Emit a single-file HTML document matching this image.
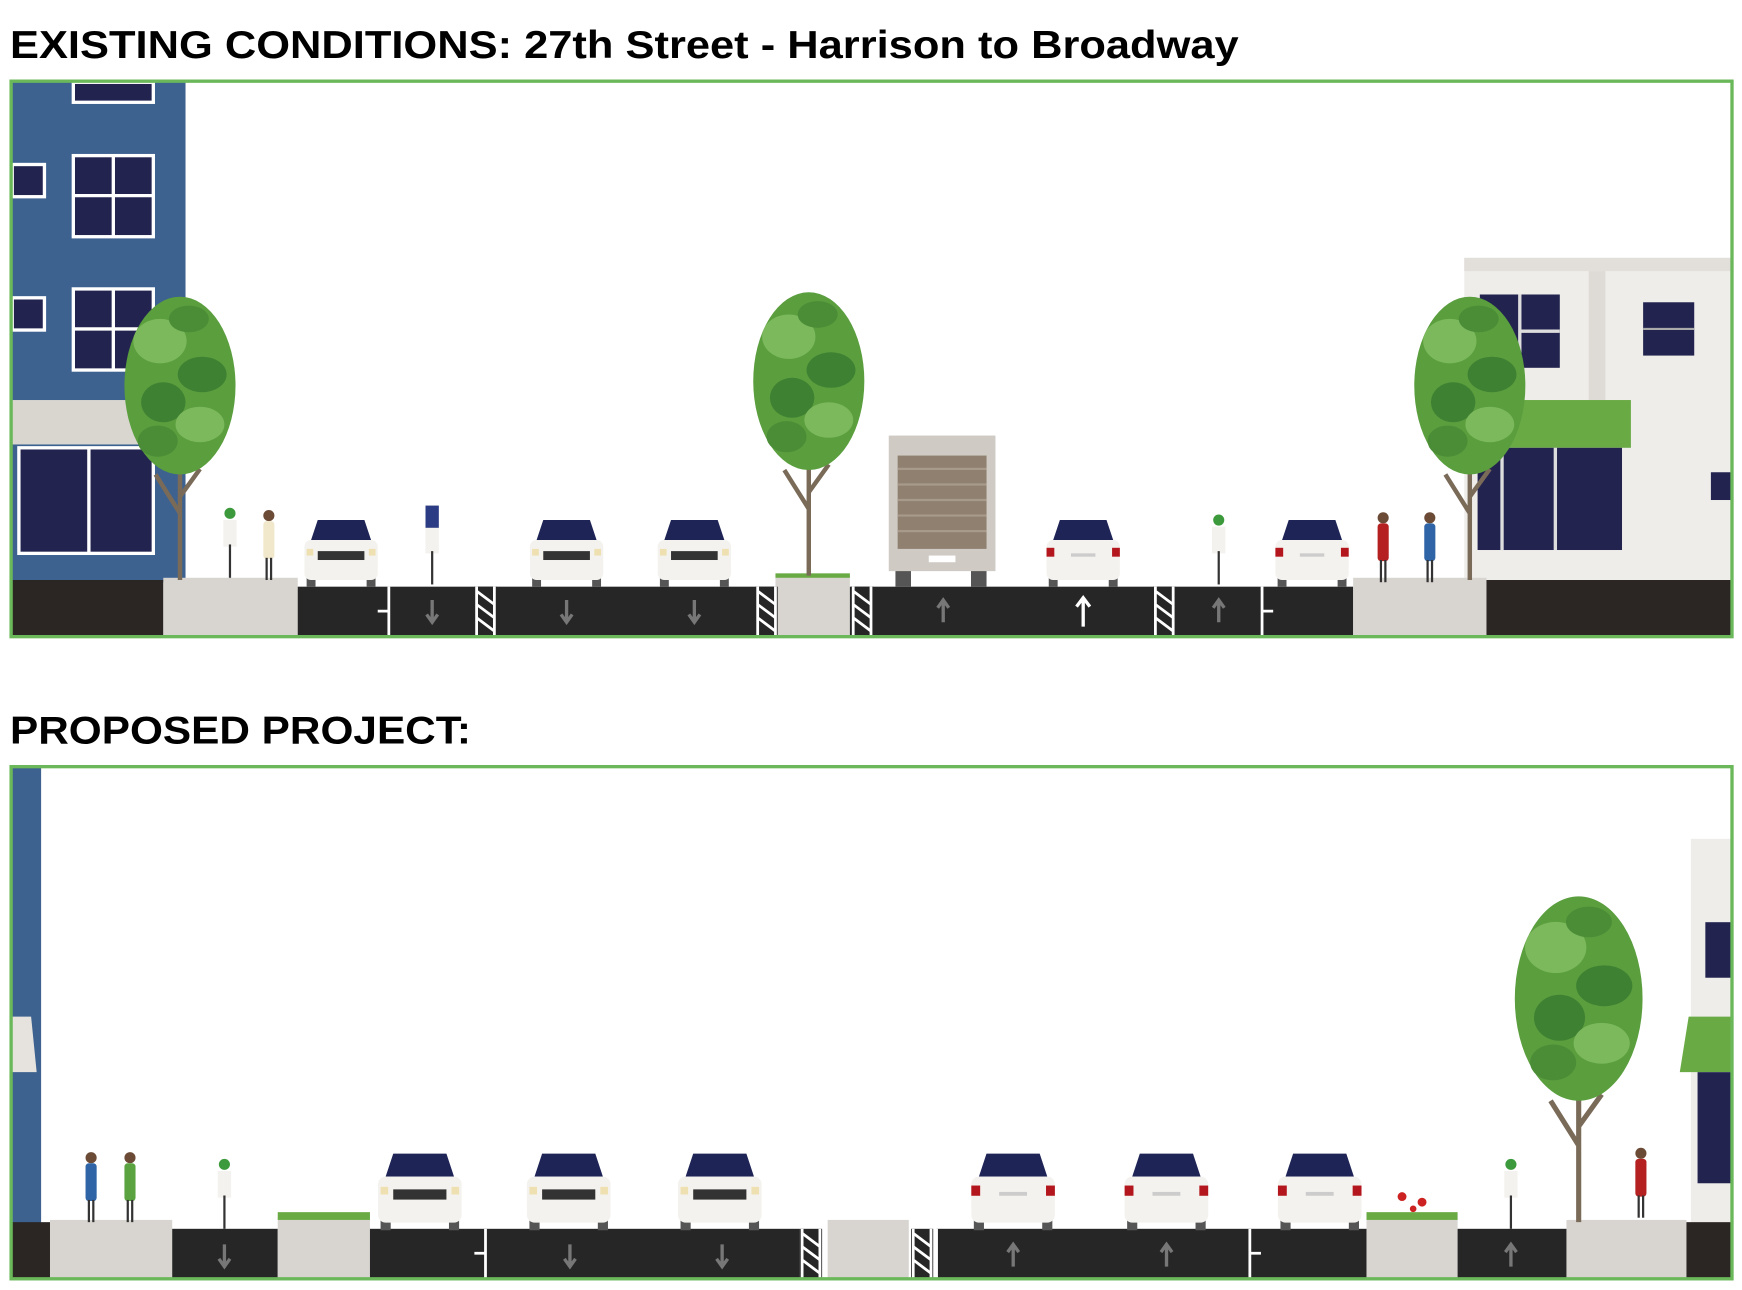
<!DOCTYPE html>
<html><head><meta charset="utf-8"><style>
html,body{margin:0;padding:0;background:#fff;width:1742px;height:1290px;overflow:hidden}
svg{display:block}
</style></head><body>
<svg width="1742" height="1290" viewBox="0 0 1568 1161" xmlns="http://www.w3.org/2000/svg">
<defs>
  <g id="carF">
    <rect x="4" y="50" width="8" height="12" fill="#555"/><rect x="58" y="50" width="8" height="12" fill="#555"/>
    <path d="M10 8 L60 8 L66 24 L4 24 Z" fill="#fff"/>
    <path d="M14 2 L56 2 L62 20 L8 20 Z" fill="#1f2456"/>
    <rect x="2" y="20" width="66" height="36" rx="6" fill="#f4f2ee"/>
    <rect x="14" y="30" width="42" height="8" fill="#333"/>
    <rect x="4" y="28" width="6" height="6" fill="#eee0b0"/><rect x="60" y="28" width="6" height="6" fill="#eee0b0"/>
  </g>
  <g id="carR">
    <rect x="4" y="50" width="8" height="12" fill="#555"/><rect x="58" y="50" width="8" height="12" fill="#555"/>
    <path d="M14 2 L56 2 L62 20 L8 20 Z" fill="#1f2456"/>
    <rect x="2" y="20" width="66" height="36" rx="6" fill="#f4f2ee"/>
    <rect x="2" y="27" width="7" height="8" fill="#b3161c"/><rect x="61" y="27" width="7" height="8" fill="#b3161c"/>
    <rect x="24" y="32" width="22" height="3" fill="#ccc"/>
  </g>
  <g id="tree">
    <path d="M0 0 L0 -120 M0 -60 L-22 -95 M0 -75 L18 -100" stroke="#7a6a58" stroke-width="4" fill="none"/>
    <ellipse cx="0" cy="-175" rx="50" ry="80" fill="#5a9e3e"/>
    <ellipse cx="-18" cy="-215" rx="24" ry="20" fill="#7cb85c"/>
    <ellipse cx="20" cy="-185" rx="22" ry="16" fill="#3f8132"/>
    <ellipse cx="-15" cy="-160" rx="20" ry="18" fill="#3f8132"/>
    <ellipse cx="18" cy="-140" rx="22" ry="16" fill="#7cb85c"/>
    <ellipse cx="-20" cy="-125" rx="18" ry="14" fill="#4a8d36"/>
    <ellipse cx="8" cy="-235" rx="18" ry="12" fill="#4a8d36"/>
  </g>
  <g id="hatch"><rect x="0" y="0" width="20" height="44" fill="#262626"/>
    <path d="M2 0 V44 M18 0 V44 M2 4 L18 16 M2 16 L18 28 M2 28 L18 40" stroke="#fff" stroke-width="2.5"/></g>
  <g id="arrD"><path d="M0 -10 V8 M-5 3 L0 10 L5 3" stroke="#777" stroke-width="3" fill="none"/></g>
  <g id="arrU"><path d="M0 10 V-8 M-5 -3 L0 -10 L5 -3" stroke="#777" stroke-width="3" fill="none"/></g>
  <g id="ped"><circle cx="0" cy="-58" r="5" fill="#6b4b36"/><rect x="-5" y="-53" width="10" height="34" rx="3"/><rect x="-3" y="-20" width="2" height="20" fill="#333"/><rect x="1" y="-20" width="2" height="20" fill="#333"/></g>
  <g id="bike"><circle cx="0" cy="-58" r="5" fill="#3c9a3c"/><rect x="-6" y="-52" width="12" height="24" fill="#f4f2ee"/><rect x="-1" y="-30" width="2" height="30" fill="#333"/></g>
</defs>

<!-- Titles -->
<text x="9" y="52" font-family="Liberation Sans, sans-serif" font-weight="bold" font-size="35" textLength="1106" lengthAdjust="spacingAndGlyphs" fill="#000">EXISTING CONDITIONS: 27th Street - Harrison to Broadway</text>
<text x="9" y="669" font-family="Liberation Sans, sans-serif" font-weight="bold" font-size="35" textLength="415" lengthAdjust="spacingAndGlyphs" fill="#000">PROPOSED PROJECT:</text>

<!-- ============ PANEL 1 ============ -->
<g>
  <!-- left building -->
  <rect x="11" y="74" width="156" height="450" fill="#3d6290"/>
  <rect x="66" y="74" width="72" height="18" fill="#22244f" stroke="#fff" stroke-width="3"/>
  <rect x="66" y="140" width="72" height="73" fill="#22244f" stroke="#fff" stroke-width="3"/>
  <path d="M102 140 V213 M66 176 H138" stroke="#fff" stroke-width="3"/>
  <rect x="66" y="260" width="72" height="73" fill="#22244f" stroke="#fff" stroke-width="3"/>
  <path d="M102 260 V333 M66 296 H138" stroke="#fff" stroke-width="3"/>
  <rect x="11" y="148" width="29" height="29" fill="#22244f" stroke="#fff" stroke-width="3"/>
  <rect x="11" y="268" width="29" height="29" fill="#22244f" stroke="#fff" stroke-width="3"/>
  <rect x="11" y="360" width="125" height="40" fill="#d9d6d0"/>
  <rect x="17" y="403" width="121" height="95" fill="#22244f" stroke="#fff" stroke-width="3"/>
  <path d="M80 403 V498" stroke="#fff" stroke-width="3"/>

  <!-- right building -->
  <rect x="1318" y="232" width="240" height="292" fill="#efedea"/>
  <rect x="1318" y="232" width="240" height="12" fill="#e2dfdb"/>
  <rect x="1430" y="244" width="15" height="116" fill="#dedbd6"/>
  <rect x="1332" y="265" width="72" height="66" fill="#22244f"/>
  <path d="M1368 265 V331 M1368 298 H1404" stroke="#ddd" stroke-width="3"/>
  <rect x="1479" y="272" width="46" height="48" fill="#22244f"/>
  <path d="M1479 296 H1525" stroke="#aaa" stroke-width="2"/>
  <rect x="1340" y="360" width="128" height="43" fill="#6aaa45"/>
  <rect x="1330" y="403" width="130" height="92" fill="#22244f"/>
  <path d="M1352 403 V495 M1400 403 V495" stroke="#ddd" stroke-width="3"/>
  <rect x="1540" y="425" width="18" height="25" fill="#22244f"/>

  <!-- ground -->
  <rect x="11" y="522" width="136" height="50" fill="#2b2623"/>
  <rect x="147" y="520" width="121" height="52" fill="#d8d5d0"/>
  <rect x="268" y="528" width="430" height="44" fill="#262626"/>
  <rect x="698" y="518" width="67" height="54" fill="#d8d5d0"/>
  <rect x="698" y="516" width="67" height="4" fill="#6aaa45"/>
  <rect x="765" y="528" width="453" height="44" fill="#262626"/>
  <rect x="1218" y="520" width="120" height="52" fill="#d8d5d0"/>
  <rect x="1338" y="522" width="220" height="50" fill="#2b2623"/>

  <!-- markings -->
  <path d="M350 528 V572 M340 550 H350" stroke="#fff" stroke-width="2.5"/>
  <use href="#arrD" x="389" y="550"/>
  <use href="#hatch" x="427" y="528"/>
  <use href="#arrD" x="510" y="550"/>
  <use href="#arrD" x="625" y="550"/>
  <use href="#hatch" x="680" y="528"/>
  <use href="#hatch" x="766" y="528"/>
  <use href="#arrU" x="849" y="550"/>
  <path d="M975 540 V564 M969 546 L975 538 L981 546" stroke="#fff" stroke-width="3" fill="none"/>
  <use href="#hatch" x="1038" y="528"/>
  <use href="#arrU" x="1097" y="550"/>
  <path d="M1136 528 V572 M1136 550 H1146" stroke="#fff" stroke-width="2.5"/>

  <!-- trees -->
  <use href="#tree" x="162" y="522"/>
  <use href="#tree" x="728" y="518"/>
  <use href="#tree" x="1323" y="522"/>

  <!-- truck -->
  <rect x="806" y="508" width="14" height="20" fill="#555"/><rect x="874" y="508" width="14" height="20" fill="#555"/>
  <rect x="800" y="392" width="96" height="122" fill="#cfcac4"/>
  <rect x="808" y="410" width="80" height="84" fill="#8f8070"/>
  <path d="M808 422 H888 M808 436 H888 M808 450 H888 M808 464 H888 M808 478 H888" stroke="#a89a8a" stroke-width="2"/>
  <rect x="836" y="500" width="24" height="6" fill="#fff"/>

  <!-- cars -->
  <use href="#carF" x="272" y="466"/>
  <use href="#carF" x="475" y="466"/>
  <use href="#carF" x="590" y="466"/>
  <use href="#carR" x="940" y="466"/>
  <use href="#carR" x="1146" y="466"/>

  <!-- people -->
  <use href="#bike" x="207" y="520"/>
  <use href="#ped" x="242" y="522" fill="#f1e8cc"/>
  <use href="#bike" x="389" y="526" />
  <rect x="383" y="455" width="12" height="20" fill="#2c3c84"/>
  <use href="#bike" x="1097" y="526"/>
  <use href="#ped" x="1245" y="524" fill="#b52020"/>
  <use href="#ped" x="1287" y="524" fill="#2f64a6"/>
</g>
<rect x="10" y="73" width="1549" height="500" fill="none" stroke="#6ab85a" stroke-width="3"/>

<!-- ============ PANEL 2 ============ -->
<g>
  <rect x="11" y="691" width="26" height="410" fill="#3d6290"/>
  <path d="M11 915 L28 915 L33 965 L11 965 Z" fill="#e6e3de"/>
  <rect x="1522" y="755" width="36" height="345" fill="#efedea"/>
  <rect x="1535" y="830" width="23" height="50" fill="#22244f"/>
  <path d="M1512 965 L1520 915 L1558 915 L1558 965 Z" fill="#6aaa45"/>
  <rect x="1528" y="965" width="30" height="100" fill="#22244f"/>

  <rect x="11" y="1100" width="34" height="50" fill="#2b2623"/>
  <rect x="45" y="1098" width="110" height="52" fill="#d8d5d0"/>
  <rect x="155" y="1106" width="95" height="44" fill="#262626"/>
  <rect x="250" y="1096" width="83" height="54" fill="#d8d5d0"/>
  <rect x="250" y="1091" width="83" height="7" fill="#6aaa45"/>
  <rect x="333" y="1106" width="387" height="44" fill="#262626"/>
  <use href="#hatch" x="720" y="1106"/>
  <rect x="745" y="1098" width="73" height="52" fill="#d8d5d0"/>
  <use href="#hatch" x="820" y="1106"/>
  <rect x="843" y="1106" width="387" height="44" fill="#262626"/>
  <rect x="1230" y="1096" width="82" height="54" fill="#d8d5d0"/>
  <rect x="1230" y="1091" width="82" height="7" fill="#6aaa45"/>
  <rect x="1312" y="1106" width="98" height="44" fill="#262626"/>
  <rect x="1410" y="1098" width="108" height="52" fill="#d8d5d0"/>
  <rect x="1518" y="1100" width="40" height="50" fill="#2b2623"/>

  <path d="M437 1106 V1150 M427 1128 H437" stroke="#fff" stroke-width="2.5"/>
  <path d="M843 1106 V1150" stroke="#fff" stroke-width="2.5"/>
  <path d="M1125 1106 V1150 M1125 1128 H1135" stroke="#fff" stroke-width="2.5"/>
  <use href="#arrD" x="202" y="1130"/>
  <use href="#arrD" x="513" y="1130"/>
  <use href="#arrD" x="650" y="1130"/>
  <use href="#arrU" x="912" y="1130"/>
  <use href="#arrU" x="1050" y="1130"/>
  <use href="#arrU" x="1360" y="1130"/>

  <use href="#tree" transform="translate(1421 1100) scale(1.15)"/>

  <use href="#carF" transform="translate(338 1036) scale(1.14 1.15)"/>
  <use href="#carF" transform="translate(472 1036) scale(1.14 1.15)"/>
  <use href="#carF" transform="translate(608 1036) scale(1.14 1.15)"/>
  <use href="#carR" transform="translate(872 1036) scale(1.14 1.15)"/>
  <use href="#carR" transform="translate(1010 1036) scale(1.14 1.15)"/>
  <use href="#carR" transform="translate(1148 1036) scale(1.14 1.15)"/>

  <use href="#ped" x="82" y="1100" fill="#2f64a6"/>
  <use href="#ped" x="117" y="1100" fill="#5aa340"/>
  <use href="#bike" x="202" y="1106"/>
  <use href="#bike" x="1360" y="1106"/>
  <use href="#ped" x="1477" y="1096" fill="#b52020"/>
  <circle cx="1262" cy="1077" r="4" fill="#c22"/><circle cx="1280" cy="1082" r="4" fill="#c22"/><circle cx="1272" cy="1088" r="3" fill="#c22"/>
</g>
<rect x="10" y="690" width="1549" height="461" fill="none" stroke="#6ab85a" stroke-width="3"/>
</svg>
</body></html>
